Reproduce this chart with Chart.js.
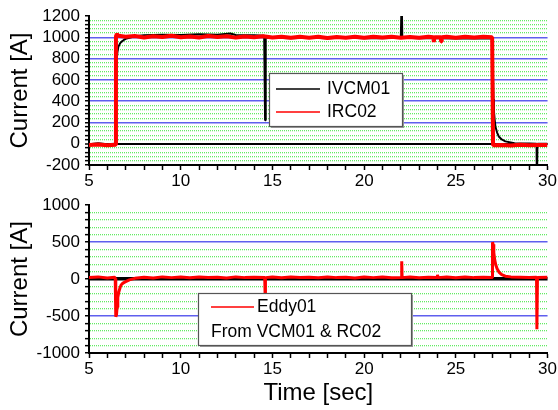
<!DOCTYPE html>
<html>
<head>
<meta charset="utf-8">
<script src="https://cdn.jsdelivr.net/npm/chart.js@4.4.1/dist/chart.umd.min.js"></script>
<style>
  html, body { margin: 0; padding: 0; background: #fff; }
  #wrap { position: relative; width: 558px; height: 410px; overflow: hidden; }
  #wrap div { position: absolute; left: 0; width: 558px; }
</style>
</head>
<body>
<div id="wrap">
  <div id="boxTop" style="top:0;height:200px"><canvas id="canvasTop"></canvas></div>
  <div id="boxBot" style="top:190px;height:220px"><canvas id="canvasBot"></canvas></div>
</div>
<script>
// 데이터
var ivcm01Time = [5, 5.5, 6.0, 6.4, 6.45, 6.47, 6.5, 6.55, 6.6, 6.7, 6.8, 6.9, 7.0, 7.2, 7.5, 8.0, 9.0, 10.0, 11.0, 12.0, 12.7, 13.0, 14.0, 14.55, 14.6, 14.62, 14.65, 15.0, 16, 17, 18, 19, 20, 21, 22.0, 22.05, 22.08, 23, 24, 25, 26, 26.98, 27.02, 27.05, 27.08, 27.12, 27.16, 27.25, 27.34, 27.5, 27.7, 28.2, 29.0, 29.4, 29.42, 29.45, 30];
var ivcm01Val  = [-5, 4, -6, 0, 0, 400, 780, 860, 910, 945, 962, 975, 985, 995, 1010, 1020, 1025, 1022, 1028, 1025, 1035, 1022, 1020, 1015, 220, 1000, 995, 995, 992, 995, 990, 995, 990, 992, 995, 1400, 995, 990, 992, 988, 990, 988, 700, 420, 300, 220, 160, 105, 68, 40, 22, 5, 2, 0, -400, 0, 0];

var irc02Time = [5, 5.5, 6.0, 6.44, 6.47, 6.52, 6.6, 7.0, 7.5, 8, 8.5, 9, 9.5, 10, 10.5, 11, 11.5, 12, 12.5, 13, 13.5, 14, 14.5, 15, 15.5, 16, 16.5, 17, 17.5, 18, 18.5, 19, 19.5, 20, 20.5, 21, 21.5, 22, 22.5, 23, 23.5, 23.78, 23.8, 23.83, 24.18, 24.2, 24.23, 24.5, 25, 25.5, 26, 26.5, 26.98, 27.03, 27.5, 28, 28.5, 29, 29.5, 30];
var irc02Val  = [-12, -8, -14, -10, 1010, 1030, 1015, 1005, 1012, 998, 1010, 1002, 1015, 1000, 1008, 998, 1012, 1003, 1010, 997, 1008, 1001, 1010, 998, 1006, 995, 1004, 996, 1005, 994, 1003, 996, 1005, 995, 1004, 997, 1006, 995, 1003, 996, 1004, 1000, 955, 1000, 1000, 960, 1000, 1004, 996, 1005, 997, 1004, 1000, -15, -12, -16, -10, -14, -11, -13];

var eddy01Time = [5, 5.5, 6.0, 6.4, 6.43, 6.46, 6.5, 6.53, 6.57, 6.62, 6.7, 6.75, 6.85, 7.0, 7.2, 7.5, 8, 8.5, 9, 9.5, 10, 10.5, 11, 11.5, 12, 12.5, 13, 13.5, 14, 14.58, 14.6, 14.62, 15, 15.5, 16, 16.5, 17, 17.5, 18, 18.5, 19, 19.5, 20, 20.5, 21, 21.5, 22.03, 22.05, 22.07, 22.5, 23, 23.5, 23.98, 24.0, 24.03, 24.5, 25, 25.5, 26, 26.5, 26.98, 27.0, 27.03, 27.07, 27.12, 27.18, 27.25, 27.35, 27.5, 27.7, 28, 28.5, 29, 29.4, 29.42, 29.45, 30];
var eddy01Val  = [20, 30, 15, 25, 10, -510, -480, -380, -250, -180, -110, -80, -55, -35, -10, 10, 25, 15, 30, 20, 28, 18, 30, 22, 26, 16, 30, 20, 25, 20, -190, 20, 28, 18, 30, 22, 26, 18, 30, 20, 25, 16, 28, 20, 30, 18, 20, 240, 20, 28, 18, 26, 20, 60, 20, 28, 18, 30, 20, 26, 20, 500, 470, 360, 260, 190, 140, 95, 60, 40, 30, 25, 20, 25, -680, 20, 25];

var topYTicks = { min: -200, max: 1200, minor: 40, major: 200 };
var botYTicks = { min: -1000, max: 1000, minor: 100, major: 500 };
var timeTicks = { min: 5, max: 30, minor: 1, major: 5 };

var topLegend = ['IVCM01', 'IRC02'];
var botLegend = ['Eddy01', 'From VCM01 & RC02'];

var FONT = 'Arial, "Liberation Sans", sans-serif';

function toXY(t, v){
	var pts = [];
	for(var i=0;i<t.length;i++){ pts.push({x: t[i], y: v[i]}); }
	return pts;
}

// 그리드 색 : 0 검정, 주눈금 파랑, 보조눈금 초록 점선
function gridColor(tk){
	return function(ctx){
		if(!ctx.tick) return 'rgba(0,0,0,0)';
		var v = ctx.tick.value;
		if(v == tk.min || v == tk.max) return 'rgba(0,0,0,0)';
		if(v == 0) return '#000';
		if(Math.abs(v % tk.major) < 1e-6) return 'rgb(95,95,238)';
		return 'rgb(100,235,100)';
	};
}
function gridWidth(tk, zeroWidth){
	return function(ctx){
		if(!ctx.tick) return 1;
		var v = ctx.tick.value;
		if(v == 0) return zeroWidth;
		if(Math.abs(v % tk.major) < 1e-6) return 1.5;
		return 1.3;
	};
}
function gridDash(tk){
	return function(ctx){
		if(!ctx.tick) return [];
		var v = ctx.tick.value;
		if(Math.abs(v % tk.major) < 1e-6) return [];
		return [1, 1];
	};
}

// 범례 박스 (직접 그림)
var boxLegendPlugin = {
	id: 'boxLegend',
	afterDraw: function(chart, args, opt){
		var c = chart.ctx;
		c.save();
		c.fillStyle = '#9a9a9a';
		c.fillRect(opt.x + 2, opt.y + 2, opt.w, opt.h);
		c.fillStyle = '#fff';
		c.fillRect(opt.x, opt.y, opt.w, opt.h);
		c.strokeStyle = '#555';
		c.lineWidth = 1.2;
		c.strokeRect(opt.x + 0.5, opt.y + 0.5, opt.w, opt.h);
		c.font = opt.fontSize + 'px ' + FONT;
		c.textBaseline = 'middle';
		c.fillStyle = '#000';
		for(var i=0;i<opt.items.length;i++){
			var it = opt.items[i];
			var ry = opt.y + opt.rowTop + i * opt.rowGap;
			if(it.color){
				c.strokeStyle = it.color;
				c.lineWidth = 1.5;
				c.beginPath();
				c.moveTo(opt.x + opt.lineX0, ry);
				c.lineTo(opt.x + opt.lineX1, ry);
				c.stroke();
				c.fillText(it.text, opt.x + opt.textX, ry);
			}else{
				c.fillText(it.text, opt.x + opt.lineX0, ry);
			}
		}
		c.restore();
	}
};

function makeX(showTitle, height){
	return {
		type: 'linear', min: timeTicks.min, max: timeTicks.max,
		ticks: {
			stepSize: timeTicks.minor, autoSkip: false, maxRotation: 0, padding: 1,
			color: '#000', font: { family: FONT, size: 17 },
			callback: function(v){ return (v % timeTicks.major == 0) ? String(v) : ''; }
		},
		grid: { drawOnChartArea: false, drawTicks: true, tickLength: 5, tickColor: '#000', tickWidth: 1.5 },
		border: { display: true, color: '#000', width: 2 },
		title: { display: showTitle, text: 'Time [sec]', color: '#000', font: { family: FONT, size: 24 }, padding: { top: 0, bottom: 2 } },
		afterFit: function(s){ s.height = height; }
	};
}
function makeY(tk, zeroWidth){
	return {
		type: 'linear', min: tk.min, max: tk.max,
		ticks: {
			stepSize: tk.minor, autoSkip: false, padding: 5,
			color: '#000', font: { family: FONT, size: 17 },
			callback: function(v){ return (Math.abs(v % tk.major) < 1e-6) ? String(v) : ''; }
		},
		grid: {
			color: gridColor(tk), lineWidth: gridWidth(tk, zeroWidth),
			drawTicks: true, tickLength: 4, tickColor: '#000', tickWidth: 1.5
		},
		border: { display: true, color: '#000', width: 2, dash: gridDash(tk) },
		title: { display: true, text: 'Current [A]', color: '#000', font: { family: FONT, size: 24 }, padding: { top: 6, bottom: 0 } },
		afterFit: function(s){ s.width = 89; }
	};
}

function initBody(){
	Chart.defaults.animation = false;
	Chart.defaults.font.family = FONT;

	// 위쪽 챠트
	var ctxTop = document.getElementById('canvasTop').getContext('2d');
	window.chartTop = new Chart(ctxTop, {
		type: 'line',
		data: {
			datasets: [
				{ label: topLegend[0], data: toXY(ivcm01Time, ivcm01Val), borderColor: '#000', borderWidth: 2, borderJoinStyle: 'bevel', pointRadius: 0, order: 1 },
				{ label: topLegend[1], data: toXY(irc02Time, irc02Val), borderColor: '#ff0000', borderWidth: 4, borderJoinStyle: 'bevel', pointRadius: 0, order: 0 }
			]
		},
		options: {
			responsive: true, maintainAspectRatio: false,
			layout: { padding: { top: 16, right: 9, left: 0, bottom: 0 } },
			scales: { x: makeX(false, 35), y: makeY(topYTicks, 2) },
			plugins: {
				legend: { display: false }, tooltip: { enabled: false },
				boxLegend: {
					x: 269, y: 73, w: 133, h: 53, fontSize: 17.5, rowTop: 16, rowGap: 23,
					lineX0: 7, lineX1: 51, textX: 58,
					items: [ { text: topLegend[0], color: '#000' }, { text: topLegend[1], color: '#ff0000' } ]
				}
			}
		},
		plugins: [boxLegendPlugin]
	});

	// 아래쪽 챠트
	var ctxBot = document.getElementById('canvasBot').getContext('2d');
	window.chartBot = new Chart(ctxBot, {
		type: 'line',
		data: {
			datasets: [
				{ label: botLegend[0], data: toXY(eddy01Time, eddy01Val), borderColor: '#ff0000', borderWidth: 3, borderJoinStyle: 'bevel', pointRadius: 0 }
			]
		},
		options: {
			responsive: true, maintainAspectRatio: false,
			layout: { padding: { top: 15, right: 9, left: 0, bottom: 0 } },
			scales: { x: makeX(true, 57), y: makeY(botYTicks, 3.5) },
			plugins: {
				legend: { display: false }, tooltip: { enabled: false },
				boxLegend: {
					x: 198, y: 103, w: 213, h: 52, fontSize: 17.5, rowTop: 14, rowGap: 25,
					lineX0: 13, lineX1: 56, textX: 59,
					items: [ { text: botLegend[0], color: '#ff0000' }, { text: botLegend[1] } ]
				}
			}
		},
		plugins: [boxLegendPlugin]
	});
}
initBody();
</script>
</body>
</html>
